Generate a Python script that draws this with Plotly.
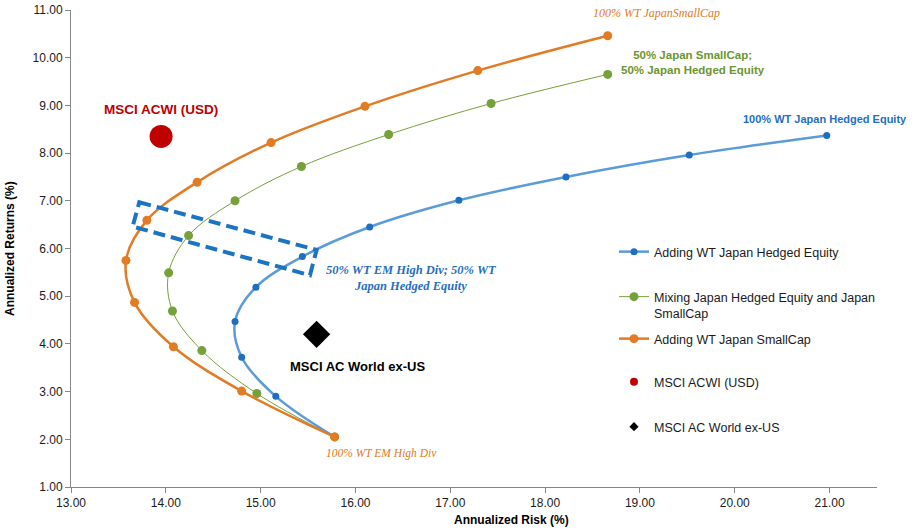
import plotly.graph_objects as go

# ---- data (Annualized Risk %, Annualized Return %) ----
hedged_risk = [15.78, 15.16, 14.80, 14.73, 14.95, 15.44, 16.15, 17.09, 18.22, 19.52, 20.97]
hedged_ret = [2.05, 2.90, 3.72, 4.47, 5.19, 5.83, 6.45, 7.01, 7.50, 7.96, 8.37]

mixing_risk = [15.78, 14.96, 14.38, 14.07, 14.03, 14.24, 14.73, 15.43, 16.35, 17.43, 18.66]
mixing_ret = [2.05, 2.96, 3.86, 4.69, 5.49, 6.27, 7.00, 7.72, 8.39, 9.04, 9.65]

small_risk = [15.78, 14.80, 14.08, 13.67, 13.58, 13.80, 14.33, 15.11, 16.10, 17.29, 18.66]
small_ret = [2.05, 3.01, 3.94, 4.87, 5.75, 6.59, 7.39, 8.22, 8.98, 9.73, 10.46]

acwi_risk = [13.95]
acwi_ret = [8.35]
exus_risk = [15.59]
exus_ret = [4.20]

# highlight box corners (risk, return)
box_risk = [13.72, 15.59, 15.52, 13.65]
box_ret = [6.97, 5.97, 5.44, 6.46]

x_ticks = [13, 14, 15, 16, 17, 18, 19, 20, 21]
y_ticks = [1, 2, 3, 4, 5, 6, 7, 8, 9, 10, 11]

C_BLUE_L = "#5a9bd8"
C_BLUE_M = "#1f6fc1"
C_GREEN = "#76a03a"
C_ORANGE = "#e27b23"
C_RED = "#c00000"

FONT = "Liberation Sans"
SERIF = "Liberation Serif"

# plot-area geometry in pixels (for paper-coordinate placement)
L, T, W, H = 71, 10, 806, 477


def px_x(p):
    return (p - L) / W


def px_y(p):
    return (T + H - p) / H


fig = go.Figure()

fig.add_trace(go.Scatter(
    x=hedged_risk, y=hedged_ret, mode="lines+markers",
    name="Adding WT Japan Hedged Equity", legend="legend",
    line=dict(color=C_BLUE_L, width=2.5, shape="spline", smoothing=1),
    marker=dict(color=C_BLUE_M, size=7)))
fig.add_trace(go.Scatter(
    x=mixing_risk, y=mixing_ret, mode="lines+markers",
    name="Mixing Japan Hedged Equity and Japan<br>SmallCap", legend="legend2",
    line=dict(color=C_GREEN, width=1, shape="spline", smoothing=1),
    marker=dict(color=C_GREEN, size=9)))
fig.add_trace(go.Scatter(
    x=small_risk, y=small_ret, mode="lines+markers",
    name="Adding WT Japan SmallCap", legend="legend3",
    line=dict(color=C_ORANGE, width=2.5, shape="spline", smoothing=1),
    marker=dict(color=C_ORANGE, size=9)))

fig.add_trace(go.Scatter(
    x=acwi_risk, y=acwi_ret, mode="markers", showlegend=False,
    marker=dict(color=C_RED, size=23)))
fig.add_trace(go.Scatter(
    x=exus_risk, y=exus_ret, mode="markers", showlegend=False,
    marker=dict(color="black", size=21, symbol="diamond")))

# legend-only entries with small symbols
fig.add_trace(go.Scatter(
    x=[None], y=[None], mode="markers", name="MSCI ACWI (USD)", legend="legend4",
    marker=dict(color=C_RED, size=8)))
fig.add_trace(go.Scatter(
    x=[None], y=[None], mode="markers", name="MSCI AC World ex-US", legend="legend5",
    marker=dict(color="black", size=7, symbol="diamond")))

path = "M " + " L ".join(f"{x},{y}" for x, y in zip(box_risk, box_ret)) + " Z"
fig.add_shape(type="path", path=path, xref="x", yref="y",
              line=dict(color="#1b74c2", width=4, dash="12px,6px"))

ann = [
    dict(x=acwi_risk[0], y=acwi_ret[0], text="<b>MSCI ACWI (USD)</b>", yshift=27,
         font=dict(family=FONT, size=13.5, color=C_RED)),
    dict(x=exus_risk[0] + 0.43, y=exus_ret[0], text="<b>MSCI AC World ex-US</b>", yshift=-32,
         font=dict(family=FONT, size=13, color="black")),
    dict(x=small_risk[-1], y=small_ret[-1], text="<i>100% WT JapanSmallCap</i>", yshift=23, xshift=49,
         font=dict(family=SERIF, size=12, color=C_ORANGE)),
    dict(x=mixing_risk[-1], y=mixing_ret[-1], text="<b>50% Japan SmallCap;<br>50% Japan Hedged Equity</b>",
         yshift=-4, xshift=85, yanchor="bottom",
         font=dict(family=FONT, size=11.5, color="#6b9530")),
    dict(x=hedged_risk[-1], y=hedged_ret[-1], text="<b>100% WT Japan Hedged Equity</b>", yshift=16, xshift=-2,
         font=dict(family=FONT, size=11, color=C_BLUE_M)),
    dict(x=px_x(411), y=px_y(278), xref="paper", yref="paper",
         text="<b><i>50% WT EM High Div; 50% WT<br>Japan Hedged Equity</i></b>",
         font=dict(family=SERIF, size=12.5, color=C_BLUE_M)),
    dict(x=hedged_risk[0], y=hedged_ret[0], text="<i>100% WT EM High Div</i>", yshift=-17, xshift=47,
         font=dict(family=SERIF, size=11.5, color=C_ORANGE)),
    dict(x=px_x(511), y=px_y(520), xref="paper", yref="paper", text="<b>Annualized Risk (%)</b>",
         xanchor="center", yanchor="middle",
         font=dict(family=FONT, size=12, color="black")),
    dict(x=px_x(10), y=px_y(248), xref="paper", yref="paper", text="<b>Annualized Returns (%)</b>",
         xanchor="center", yanchor="middle",
         textangle=-90, font=dict(family=FONT, size=12, color="black")),
]
for a in ann:
    a.setdefault("xref", "x")
    a.setdefault("yref", "y")
    a["showarrow"] = False
    fig.add_annotation(**a)

axis_common = dict(showgrid=False, zeroline=False, showline=True, linecolor="#868686", linewidth=1,
                   ticks="outside", ticklen=5, tickcolor="#868686", tickformat=".2f", automargin=False,
                   tickfont=dict(family=FONT, size=12, color="#1a1a1a"))
fig.update_xaxes(range=[13, 21.5], tickvals=x_ticks, **axis_common)
fig.update_yaxes(range=[1, 11], tickvals=y_ticks, **axis_common)

leg_font = dict(family=FONT, size=12.5, color="#1a1a1a")
leg_x = px_x(614)


def leg(center_px):
    return dict(x=leg_x, y=px_y(center_px), xanchor="left", yanchor="middle",
                font=leg_font, valign="top", bgcolor="rgba(0,0,0,0)")


fig.update_layout(
    width=924, height=532,
    margin=dict(l=L, r=924 - L - W, t=T, b=532 - T - H, autoexpand=False),
    plot_bgcolor="white", paper_bgcolor="white",
    font=dict(family=FONT, size=12, color="black"),
    legend=leg(252),
    legend2=leg(305),
    legend3=leg(339),
    legend4=leg(382),
    legend5=leg(427),
)

fig.write_html("out.html")
